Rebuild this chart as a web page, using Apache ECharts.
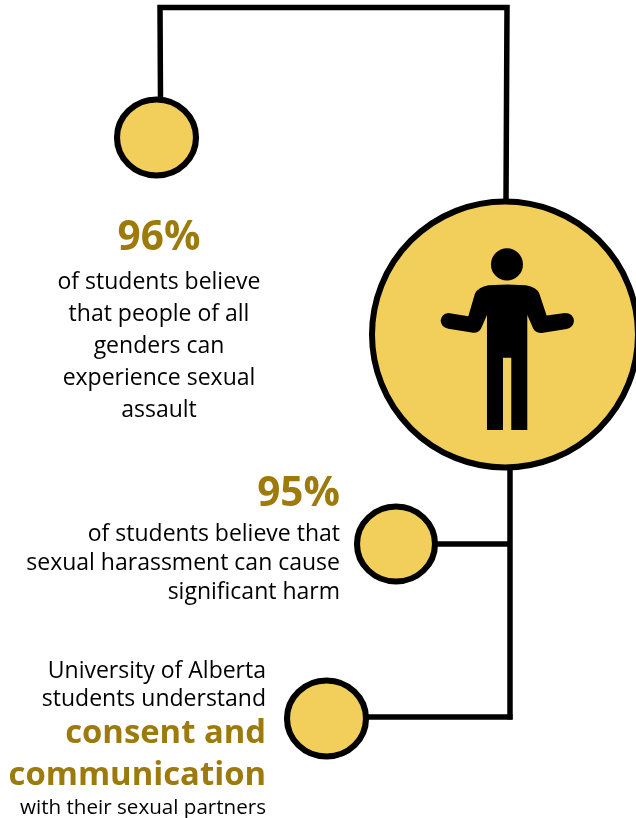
<!DOCTYPE html>
<html><head><meta charset="utf-8">
<style>html,body{margin:0;padding:0;background:#fff}#c{width:636px;height:818px}</style>
<script src="https://cdn.jsdelivr.net/npm/echarts@6/dist/echarts.min.js"></script>
</head><body><div id="c"></div>
<script>
const FONT = '"Open Sans", sans-serif';
const GOLD = '#9C7A0C', FILL = '#F2CE5B';
// connector routes, in canvas units
const connectorTop = [[160.5,100],[160,7.5],[507,7.5],[506,200]];
const connectorMain = [[510,465],[510,719.5]];
const connectorMid = [[437,544],[510,544]];
const connectorLow = [[368,717],[512.5,717]];
const connectors = [connectorTop, connectorMain, connectorMid, connectorLow];
// nodes: x, y, width, height
const nodeSmallTop = [156.5,137.5,79,76];
const nodeSmallMid = [396,544,78,75];
const nodeSmallLow = [326.5,718.5,79,76];
const nodeLarge = [505,334.5,266,266];
const nodes = [nodeLarge, nodeSmallTop, nodeSmallMid, nodeSmallLow];
const personIcon = 'path://M213 103A48 48 0 1 1 309 103A48 48 0 1 1 213 103ZM262 163L318 165Q350 170 358 190L380 256L435 248Q460 248 462 272Q460 292 440 296L365 308Q348 308 340 295L322 254L322 598L274 598L274 382L249 382L249 598L201 598L201 254L183 295Q175 308 160 307L85 295Q62 290 62 270Q65 250 85 248L145 258L165 190Q175 170 205 165Z';
const personAt = [507.3,339.2,133.3,181.7];
// texts
const block1Head = ['96%'];
const block1Body = ['of students believe','that people of all','genders can','experience sexual','assault'];
const block2Head = ['95%'];
const block2Body = ['of students believe that','sexual harassment can cause','significant harm'];
const block3Top = ['University of Alberta','students understand'];
const block3Bold = ['consent and','communication'];
const block3End = ['with their sexual partners'];

const texts = [];
function put(lines, x, ys, align, size, bold, color){
  lines.forEach((t,i)=>texts.push({type:'text',silent:true,z:10,style:{x:x,y:ys[i],text:t,align:align,verticalAlign:'middle',
    font:(bold?'bold ':'')+size+'px '+FONT,fill:color}}));
}
put(block1Head,159,[238],'center',40.5,true,GOLD);
put(block1Body,159,[282,314,346,378,410],'center',23,false,'#000');
put(block2Head,340,[494],'right',40.5,true,GOLD);
put(block2Body,340,[534,563,592],'right',23,false,'#000');
put(block3Top,266,[671,699],'right',23,false,'#000');
put(block3Bold,266,[734,776],'right',32.8,true,GOLD);
put(block3End,266,[808],'right',20.6,false,'#000');

const chart = echarts.init(document.getElementById('c'),null,{renderer:'canvas'});
chart.setOption({
  animation:false,
  grid:{left:0,right:0,top:0,bottom:0},
  xAxis:{type:'value',min:0,max:636,show:false},
  yAxis:{type:'value',min:0,max:818,inverse:true,show:false},
  series:[
    ...connectors.map(c=>({type:'line',data:c,symbol:'none',silent:true,z:1,clip:false,
      lineStyle:{color:'#000',width:5.5,cap:'butt',join:'miter'}})),
    {type:'scatter',z:3,silent:true,clip:true,
      data:nodes.map(n=>({value:[n[0],n[1]],symbolSize:[n[2],n[3]]})),
      symbol:'circle',
      itemStyle:{color:FILL,borderColor:'#000',borderWidth:6,opacity:1}},
    {type:'scatter',z:4,silent:true,
      data:[{value:[personAt[0],personAt[1]],symbol:personIcon,symbolSize:[personAt[2],personAt[3]],symbolKeepAspect:false}],
      itemStyle:{color:'#000',opacity:1}}
  ],
  graphic:{elements:texts}
});
</script></body></html>
